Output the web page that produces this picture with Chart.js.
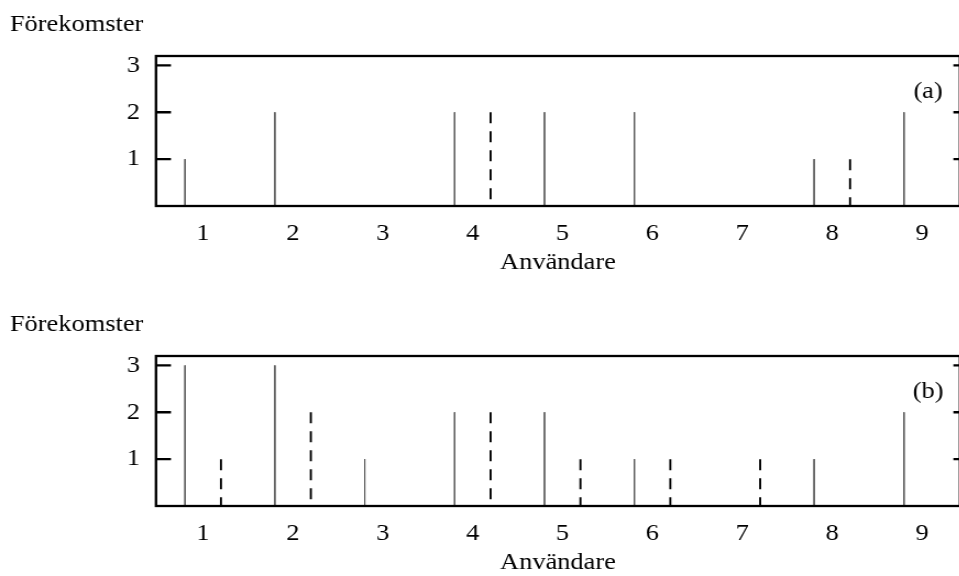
<!DOCTYPE html>
<html>
<head>
<meta charset="utf-8">
<script src="https://cdn.jsdelivr.net/npm/chart.js@4.4.1/dist/chart.umd.min.js"></script>
<style>
  html, body { margin: 0; padding: 0; background: #fff; overflow: hidden; width: 959px; height: 576px; }
  .panel { position: absolute; left: 0; }
  .panel canvas { transform: scaleX(1.1); transform-origin: 0 0; }
</style>
</head>
<body>
<div class="panel" style="top:0"><canvas id="chartA" width="875" height="290"></canvas></div>
<div class="panel" style="top:300px"><canvas id="chartB" width="875" height="290"></canvas></div>
<script>
// users on the x axis
const users = [1, 2, 3, 4, 5, 6, 7, 8, 9];
const yTicks = [1, 2, 3];

// panel (a)
const aSolid  = [1, 2, 0, 2, 2, 2, 0, 1, 2];
const aDashed = [0, 0, 0, 2, 0, 0, 0, 1, 0];

// panel (b)
const bSolid  = [3, 3, 1, 2, 2, 1, 0, 1, 2];
const bDashed = [1, 2, 0, 2, 1, 1, 1, 0, 0];

const yLabel = 'Förekomster';
const xLabel = 'Användare';

const serif = "'Liberation Serif', 'Times New Roman', serif";
Chart.defaults.font.family = serif;
Chart.defaults.font.size = 24;
Chart.defaults.color = '#000';

// impulse lines: each value becomes a vertical segment from top down to 0
function impulses(values, shift) {
    const pts = [];
    values.forEach((v, i) => {
        if (!v) return;
        const x = users[i] + shift;
        pts.push({ x: x, y: v }, { x: x, y: 0 }, { x: x, y: null });
    });
    return pts;
}

// frame, inward tick marks and the text labels
const framePlugin = {
    id: 'frame',
    afterDraw(chart, args, opts) {
        const { ctx, chartArea: a } = chart;
        const ys = chart.scales.y;
        ctx.save();
        ctx.strokeStyle = '#000';
        ctx.lineWidth = 2.3;
        ctx.strokeRect(a.left, a.top, a.right - a.left, a.bottom - a.top);
        yTicks.forEach(v => {
            const py = ys.getPixelForValue(v);
            ctx.beginPath();
            ctx.moveTo(a.left, py);
            ctx.lineTo(a.left + 13.6, py);
            ctx.moveTo(a.right - 6, py);
            ctx.lineTo(a.right, py);
            ctx.stroke();
        });
        ctx.fillStyle = '#000';
        ctx.font = '24px ' + serif;
        ctx.textBaseline = 'middle';
        ctx.textAlign = 'left';
        ctx.fillText(yLabel, 9, 25);
        ctx.textAlign = 'center';
        ctx.fillText(opts.tag, a.right - 29, a.top + 36);
        ctx.restore();
    }
};

function makePanel(id, solid, dashed, tag) {
    const ctx = document.getElementById(id).getContext('2d');
    return new Chart(ctx, {
        type: 'line',
        data: {
            datasets: [{
                data: impulses(solid, -0.2),
                borderColor: '#555',
                borderWidth: 0.9,
                pointRadius: 0,
                spanGaps: false
            }, {
                data: impulses(dashed, 0.2),
                borderColor: '#000',
                borderWidth: 1.9,
                borderDash: [11, 8],
                pointRadius: 0,
                spanGaps: false
            }]
        },
        options: {
            responsive: false,
            animation: false,
            devicePixelRatio: 1,
            layout: { padding: { top: 56, right: 2.3, bottom: 0, left: 0 } },
            plugins: {
                legend: { display: false },
                tooltip: { enabled: false },
                frame: { tag: tag }
            },
            scales: {
                x: {
                    type: 'linear',
                    min: 0.477,
                    max: 9.423,
                    grid: { display: false, drawTicks: false },
                    border: { display: false },
                    ticks: {
                        stepSize: 1,
                        includeBounds: false,
                        padding: 13,
                        maxRotation: 0,
                        callback: v => users.includes(v) ? v : ''
                    },
                    title: { display: true, text: xLabel, padding: { top: 0, bottom: 13 } },
                    afterFit: s => { s.height = 84; }
                },
                y: {
                    min: 0,
                    max: 3.2,
                    grid: { display: false, drawTicks: false },
                    border: { display: false },
                    ticks: {
                        stepSize: 1,
                        includeBounds: false,
                        padding: 14.5,
                        callback: v => yTicks.includes(v) ? v : ''
                    },
                    afterFit: s => { s.width = 141.8; }
                }
            }
        },
        plugins: [framePlugin]
    });
}

makePanel('chartA', aSolid, aDashed, '(a)');
makePanel('chartB', bSolid, bDashed, '(b)');
</script>
</body>
</html>
